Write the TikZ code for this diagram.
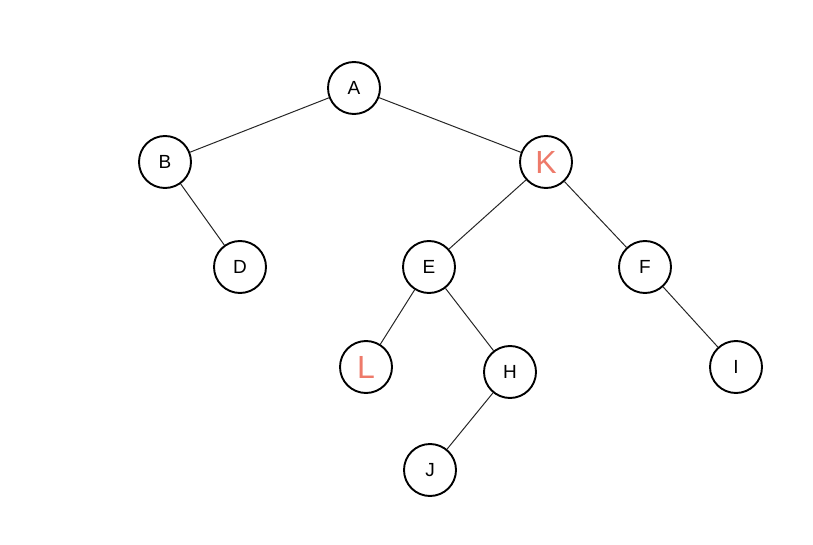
\documentclass[tikz,border=0pt]{standalone}
\usepackage{fontspec}
\setmainfont{Liberation Sans}
\definecolor{hand}{HTML}{EE7A6A}
\begin{document}
\begin{tikzpicture}[x=1pt,y=-1pt,
  nd/.style={circle,draw=black,line width=1.9pt,minimum size=52pt,inner sep=0pt,fill=white,font=\fontsize{19}{21}\selectfont},
  hw/.style={text=hand,font=\fontsize{32}{34}\selectfont},
  edge/.style={draw=black!85,line width=1pt}]
\useasboundingbox (0,0) rectangle (813,545);
\node[nd] (A) at (354,88) {A};
\node[nd] (B) at (165,162) {B};
\node[nd,hw] (K) at (546,162) {K};
\node[nd] (D) at (240,267) {D};
\node[nd] (E) at (429,267) {E};
\node[nd] (F) at (645,267) {F};
\node[nd,hw] (L) at (366,367) {L};
\node[nd] (H) at (510,372) {H};
\node[nd] (I) at (736,367) {I};
\node[nd] (J) at (430,470) {J};
\draw[edge] (A) -- (B);
\draw[edge] (A) -- (K);
\draw[edge] (B) -- (D);
\draw[edge] (K) -- (E);
\draw[edge] (K) -- (F);
\draw[edge] (E) -- (L);
\draw[edge] (E) -- (H);
\draw[edge] (F) -- (I);
\draw[edge] (H) -- (J);
\end{tikzpicture}
\end{document}
